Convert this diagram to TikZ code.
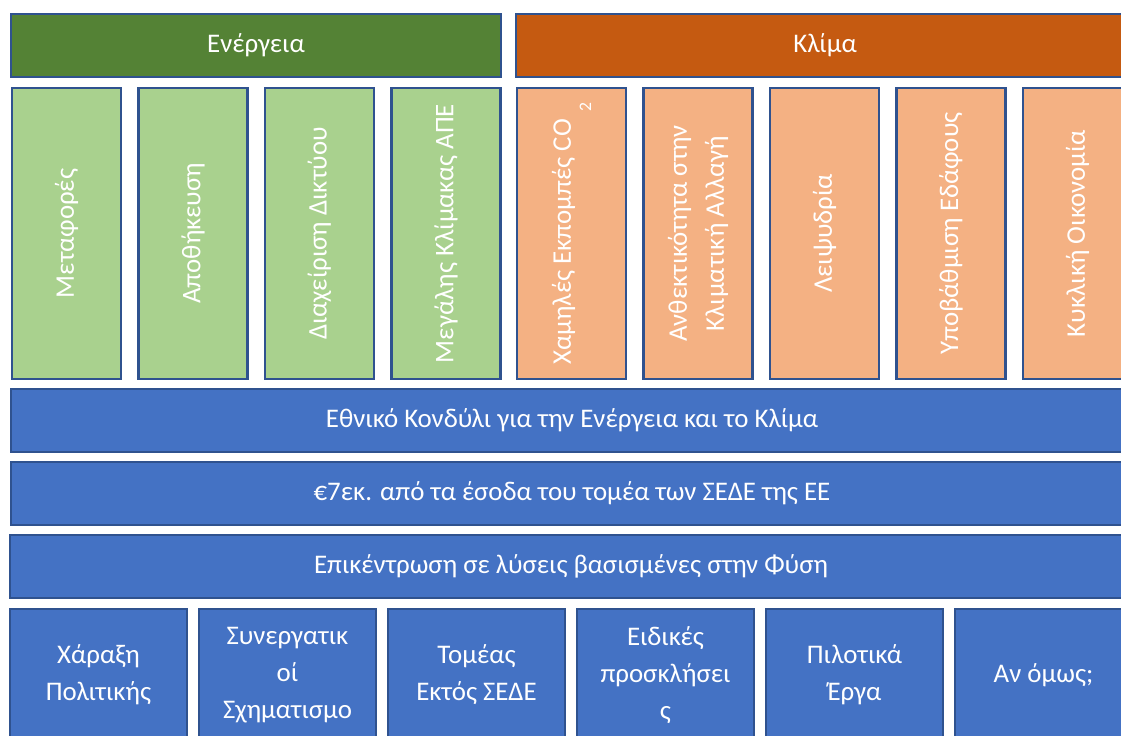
\documentclass[tikz,border=0pt]{standalone}
\usepackage{fontspec}
\setmainfont{Carlito}
\definecolor{energydark}{HTML}{548235}
\definecolor{energylight}{HTML}{A9D18E}
\definecolor{climadark}{HTML}{C55A11}
\definecolor{climalight}{HTML}{F4B183}
\definecolor{fundblue}{HTML}{4472C4}
\definecolor{boxline}{HTML}{2F528F}

\begin{document}
\begin{tikzpicture}[x=0.02cm, y=-0.02cm]
\tikzset{box/.style = {rectangle, draw=boxline, line width=1.2pt, text=white, inner sep=0pt, align=center, font=\fontsize{15.3}{21}\selectfont}}
\tikzset{subbox/.style = {box, rotate=90, minimum width=291*0.02cm, minimum height=109*0.02cm}}
\tikzset{bar/.style = {box, fill=fundblue, minimum width=1122*0.02cm, minimum height=63*0.02cm}}

\useasboundingbox (0,0) rectangle (1121,736);
\clip (0,0) rectangle (1121,736);

% headers
\node[box, fill=energydark, minimum width=490*0.02cm, minimum height=63*0.02cm] (energy) at (256, 45.5) {Ενέργεια};
\node[box, fill=climadark, minimum width=618*0.02cm, minimum height=63*0.02cm] (clima) at (825, 45.5) {Κλίμα};

% pillars
\foreach \lbl [count=\i from 0] in {Μεταφορές, Αποθήκευση, Διαχείριση Δικτύου, Μεγάλης Κλίμακας ΑΠΕ}
   {\node[subbox, fill=energylight] (en\i) at ({66.5+126.5*\i}, 233.5) {\lbl};}

\foreach \lbl [count=\i from 0] in {{Χαμηλές Εκπομπές CO\kern0.3em\raisebox{-0.75em}{\fontsize{10}{12}\selectfont 2}}, {Ανθεκτικότητα στην\\Κλιματική Αλλαγή}, Λειψυδρία, Υποβάθμιση Εδάφους, Κυκλική Οικονομία}
   {\node[subbox, fill=climalight] (cl\i) at ({571.5+126.5*\i}, 233.5) {\lbl};}

% fund bars
\node[bar] (fund) at (572, 420.5) {Εθνικό Κονδύλι για την Ενέργεια και το Κλίμα};
\node[bar] (ets) at (572, 493.5) {€7εκ. από τα έσοδα του τομέα των ΣΕΔΕ της ΕΕ};
\node[bar] (nature) at (571, 566.5) {Επικέντρωση σε λύσεις βασισμένες στην Φύση};

% tools
\foreach \lbl [count=\i from 0] in {{Χάραξη\\Πολιτικής}, {Συνεργατικ\\οί\\Σχηματισμο}, {Τομέας\\Εκτός ΣΕΔΕ}, {Ειδικές\\προσκλήσει\\ς}, {Πιλοτικά\\Έργα}, {Αν όμως;}}
   {\node[box, fill=fundblue, minimum width=177*0.02cm, minimum height=132*0.02cm] (tool\i) at ({98.5+189*\i}, 675) {\lbl};}

\end{tikzpicture}
\end{document}
